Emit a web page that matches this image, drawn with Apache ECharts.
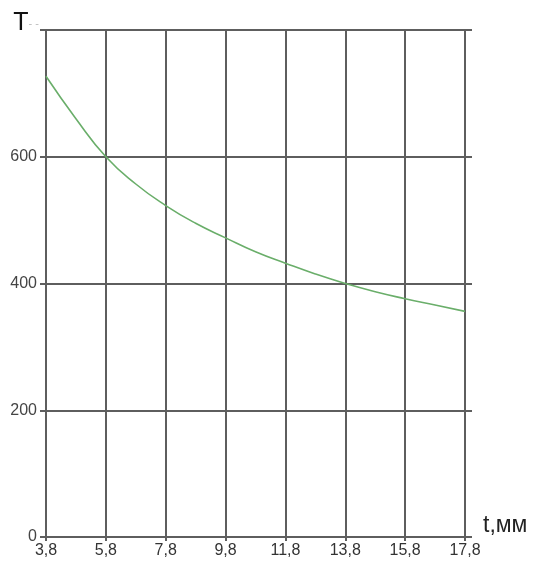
<!DOCTYPE html>
<html><head><meta charset="utf-8">
<script src="https://cdn.jsdelivr.net/npm/echarts@6/dist/echarts.min.js"></script>
<style>html,body{margin:0;padding:0;background:#fff}#c{width:535px;height:570px}</style>
</head><body><div id="c"></div>
<script>
// x categories (every other one is labelled, matching gridlines)
const categories = ['3,8','4,8','5,8','6,8','7,8','8,8','9,8','10,8','11,8','12,8','13,8','14,8','15,8','16,8','17,8'];
const tValues = [727, 660, 600, 557, 523, 495, 472, 450, 432, 415, 400, 387, 376, 366, 356];
const yTicks = [0, 200, 400, 600, 800];

const gridColor = '#5e5e5e';
const chart = echarts.init(document.getElementById('c'));
chart.setOption({
  animation: false,
  grid: {left: 46, right: 70, top: 30, bottom: 33, containLabel: false},
  xAxis: {
    type: 'category', data: categories, boundaryGap: false,
    name: 't,мм', nameLocation: 'end', nameGap: 18,
    nameTextStyle: {fontFamily: 'Liberation Sans', fontSize: 23, color: '#222', verticalAlign: 'bottom', padding: [0,0,0,0]},
    axisLine: {show: true, lineStyle: {color: gridColor, width: 2}},
    axisTick: {show: true, interval: 1, length: 4, inside: false, lineStyle: {color: gridColor, width: 2}},
    axisLabel: {interval: 1, fontFamily: 'Liberation Sans', fontSize: 16, color: '#333', margin: 6},
    splitLine: {show: true, interval: 1, lineStyle: {color: gridColor, width: 2}}
  },
  yAxis: [{
    type: 'value', min: yTicks[0], max: yTicks[yTicks.length-1], interval: 200,
    name: '{a|T}{b|- -}', nameLocation: 'end', nameGap: -6,
    nameTextStyle: {align: 'right', verticalAlign: 'bottom', padding: [0, 7, 0, 0],
      rich: {a: {fontFamily: 'Liberation Sans', fontSize: 25, color: '#111'}, b: {fontFamily: 'Liberation Sans', fontSize: 11, color: '#bbb'}}},
    axisLine: {show: true, lineStyle: {color: gridColor, width: 2}},
    axisTick: {show: true, length: 6, lineStyle: {color: gridColor, width: 2}},
    axisLabel: {fontFamily: 'Liberation Sans', fontSize: 16, color: '#444', margin: 9,
      formatter: v => v === 800 ? '' : String(v)},
    splitLine: {show: true, lineStyle: {color: gridColor, width: 2}}
  }, {
    type: 'value', position: 'right', min: yTicks[0], max: yTicks[yTicks.length-1], interval: 200,
    axisLine: {show: false}, axisLabel: {show: false}, splitLine: {show: false},
    axisTick: {show: true, length: 7, lineStyle: {color: gridColor, width: 2}}
  }],
  series: [{
    type: 'line', data: tValues, smooth: true, showSymbol: false, yAxisIndex: 0,
    lineStyle: {color: '#6aae6a', width: 1.6}
  }]
});
</script></body></html>
